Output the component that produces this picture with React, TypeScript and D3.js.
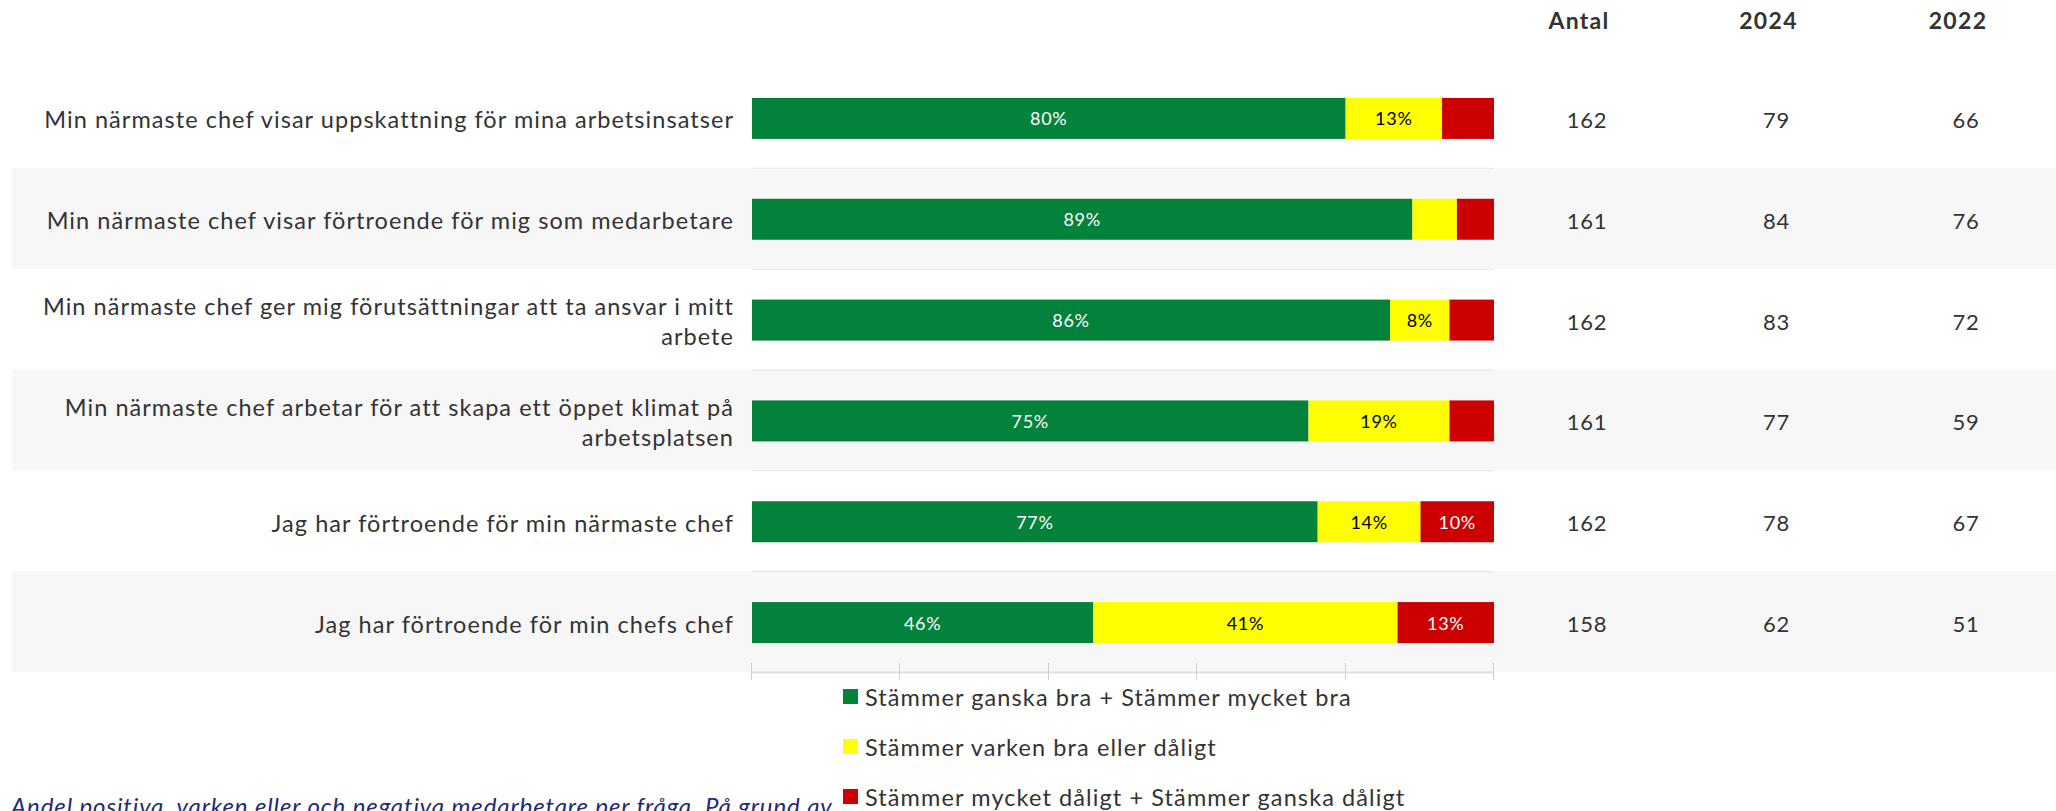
import React from "react";
import * as d3 from "d3";

const categories: string[][] = [
  ["Min närmaste chef visar uppskattning för mina arbetsinsatser"],
  ["Min närmaste chef visar förtroende för mig som medarbetare"],
  ["Min närmaste chef ger mig förutsättningar att ta ansvar i mitt", "arbete"],
  ["Min närmaste chef arbetar för att skapa ett öppet klimat på", "arbetsplatsen"],
  ["Jag har förtroende för min närmaste chef"],
  ["Jag har förtroende för min chefs chef"],
];
const positive = [80, 89, 86, 75, 77, 46];
const neutral = [13, 6, 8, 19, 14, 41];
const negative = [7, 5, 6, 6, 10, 13];
const antal = [162, 161, 162, 161, 162, 158];
const values2024 = [79, 84, 83, 77, 78, 62];
const values2022 = [66, 76, 72, 59, 67, 51];
const columnHeaders = ["Antal", "2024", "2022"];
const seriesNames = [
  "Stämmer ganska bra + Stämmer mycket bra",
  "Stämmer varken bra eller dåligt",
  "Stämmer mycket dåligt + Stämmer ganska dåligt",
];
const seriesColors = ["#03823c", "#ffff00", "#cc0000"];
const labelColors = ["#ffffff", "#000000", "#ffffff"];
const xTicks = [0, 0.2, 0.4, 0.6, 0.8, 1];
const footnote =
  "Andel positiva, varken eller och negativa medarbetare per fråga. På grund av";

const W = 2056;
const H = 811;
const FONT = "Lato, 'Noto Sans', sans-serif";

export default function App() {
  const keys = ["pos", "neu", "neg"];
  const rows = categories.map((_, i) => ({
    pos: positive[i],
    neu: neutral[i],
    neg: negative[i],
  }));
  const stacked = d3.stack<any>().keys(keys).offset(d3.stackOffsetExpand)(rows);

  const x = d3.scaleLinear().domain([0, 1]).range([752, 1494]);
  const y = d3
    .scaleBand<number>()
    .domain(categories.map((_, i) => i))
    .range([67, 672]);
  const bw = y.bandwidth();
  const barH = 41;

  const headerX = d3.scalePoint<string>().domain(columnHeaders).range([1579, 1958]);
  const valueX = d3.scalePoint<string>().domain(columnHeaders).range([1587, 1966]);
  const tableCols = [antal, values2024, values2022];

  const rawSeries = [positive, neutral, negative];

  return (
    <svg
      width={W}
      height={H}
      style={{ position: "absolute", left: 0, top: 0, display: "block", fontFamily: FONT }}
    >
      <rect x={0} y={0} width={W} height={H} fill="#ffffff" />
      {/* alternating row bands */}
      {categories.map((_, i) =>
        i % 2 === 1 ? (
          <rect key={"band" + i} x={12} y={y(i)!} width={W - 12} height={bw} fill="#f7f7f7" />
        ) : null
      )}
      {/* grid lines at band boundaries */}
      {categories.slice(1).map((_, j) => (
        <line
          key={"grid" + j}
          x1={x(0)}
          x2={x(1)}
          y1={y(j + 1)! + 0.5}
          y2={y(j + 1)! + 0.5}
          stroke="#e6e6e6"
          strokeWidth={1}
        />
      ))}
      {/* axis */}
      <line x1={x(0)} x2={x(1)} y1={672.5} y2={672.5} stroke="#e0e0e0" strokeWidth={2} />
      {xTicks.map((t) => (
        <line
          key={"tick" + t}
          x1={Math.round(x(t)) - 0.5}
          x2={Math.round(x(t)) - 0.5}
          y1={663}
          y2={680}
          stroke="#d0d0d0"
          strokeWidth={1}
        />
      ))}
      {/* bars */}
      {stacked.map((s, si) =>
        s.map((d, i) => {
          const x0 = x(d[0]);
          const x1 = x(d[1]);
          const by = y(i)! + (bw - barH) / 2 + 1;
          const v = rawSeries[si][i];
          return (
            <g key={"bar" + si + "-" + i}>
              <rect x={x0} y={by} width={x1 - x0} height={barH} fill={seriesColors[si]} />
              {v >= 8 ? (
                <text
                  x={(x0 + x1) / 2}
                  y={by + barH / 2}
                  textAnchor="middle"
                  dominantBaseline="central"
                  fontSize={18}
                  letterSpacing={0.7}
                  fill={labelColors[si]}
                >
                  {v + "%"}
                </text>
              ) : null}
            </g>
          );
        })
      )}
      {/* category labels */}
      {categories.map((lines, i) => {
        const cy = y(i)! + bw / 2 + 2;
        const lh = 30;
        return (
          <text
            key={"cat" + i}
            textAnchor="end"
            fontSize={23.5}
            letterSpacing={1.05}
            fill="#333333"
          >
            {lines.map((ln, k) => (
              <tspan
                key={k}
                x={734}
                y={cy + (k - (lines.length - 1) / 2) * lh}
                dominantBaseline="central"
              >
                {ln}
              </tspan>
            ))}
          </text>
        );
      })}
      {/* table headers */}
      {columnHeaders.map((h) => (
        <text
          key={"h" + h}
          x={headerX(h)}
          y={20}
          textAnchor="middle"
          dominantBaseline="central"
          fontSize={23}
          fontWeight="bold"
          letterSpacing={1.3}
          fill="#333333"
        >
          {h}
        </text>
      ))}
      {/* table values */}
      {tableCols.map((col, ci) =>
        col.map((v, i) => (
          <text
            key={"v" + ci + "-" + i}
            x={valueX(columnHeaders[ci])}
            y={y(i)! + bw / 2 + 2}
            textAnchor="middle"
            dominantBaseline="central"
            fontSize={22}
            letterSpacing={0.7}
            fill="#333333"
          >
            {v}
          </text>
        ))
      )}
      {/* legend */}
      {seriesNames.map((n, i) => (
        <g key={"leg" + i} transform={`translate(843, ${697 + i * 50})`}>
          <rect x={0} y={-8} width={15} height={15} fill={seriesColors[i]} />
          <text
            x={22}
            y={0}
            dominantBaseline="central"
            fontSize={23.5}
            letterSpacing={1.1}
            fill="#333333"
          >
            {n}
          </text>
        </g>
      ))}
      {/* footnote */}
      <text
        x={11}
        y={815}
        fontSize={24}
        letterSpacing={0.9}
        fontStyle="italic"
        fill="#1f2a78"
      >
        {footnote}
      </text>
    </svg>
  );
}
